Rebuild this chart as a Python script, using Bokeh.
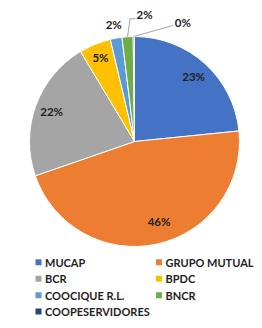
import math
from bokeh.plotting import figure
from bokeh.models import Range1d
from bokeh.core.properties import value
from bokeh.embed import file_html
from bokeh.resources import INLINE

# ---- data ----
categories = ["MUCAP", "GRUPO MUTUAL", "BCR", "BPDC", "COOCIQUE R.L.", "BNCR", "COOPESERVIDORES"]
shares = [23.4, 46.3, 21.7, 4.9, 1.8, 1.7, 0.2]
colors = ["#4472C4", "#ED7D31", "#A5A5A5", "#FFC000", "#5B9BD5", "#70AD47", "#264478"]

W, H = 262, 328
CX, CY, R = 134, H - 141, 105
FONT = value("Lato")
TXT = "#1e1e1e"
FS = "11.5px"

p = figure(width=W, height=H, x_range=Range1d(0, W), y_range=Range1d(0, H),
           output_backend="svg", toolbar_location=None, min_border=0)
p.axis.visible = False
p.grid.visible = False
p.outline_line_color = None
p.background_fill_color = "white"
p.border_fill_color = "white"

total = sum(shares)
cum = 0.0
starts, ends, mids = [], [], []
for v in shares:
    a0 = math.radians(90 - 360 * (cum + v) / total)
    a1 = math.radians(90 - 360 * cum / total)
    starts.append(a0)
    ends.append(a1)
    mids.append((a0 + a1) / 2)
    cum += v

p.wedge(x=[CX] * len(shares), y=[CY] * len(shares), radius=R,
        start_angle=starts, end_angle=ends, direction="anticlock",
        fill_color=colors, line_color="white", line_width=1)

labels = [f"{round(v)}%" for v in shares]
# inside labels
in_r = [0.84, 0.80, 0.84, 0.86]
in_da = [0.0, 0.08, 0.0, 0.0]
in_x, in_y, in_t = [], [], []
for i in range(4):
    r = in_r[i] * R
    a = mids[i] + in_da[i]
    in_x.append(CX + r * math.cos(a))
    in_y.append(CY + r * math.sin(a))
    in_t.append(labels[i])
p.text(x=in_x, y=in_y, text=in_t, text_font=FONT, text_font_style="bold",
       text_font_size=FS, text_color=TXT, text_align="center", text_baseline="middle")

# outside labels (COOCIQUE, BNCR, COOPESERVIDORES)
out_off = {4: (-13, 12), 5: (17, 22), 6: (49, 14)}
for i, (dx, dy) in out_off.items():
    ex = CX + R * math.cos(mids[i])
    ey = CY + R * math.sin(mids[i])
    if i == 4:
        lx = CX + 119 * math.cos(mids[i])
        ly = CY + 119 * math.sin(mids[i])
    else:
        lx, ly = ex + dx, ey + dy
    p.text(x=[lx], y=[ly], text=[labels[i]], text_font=FONT, text_font_style="bold",
           text_font_size=FS, text_color=TXT, text_align="center", text_baseline="middle")
    if i == 5:
        p.line(x=[ex, ex + 2.5, ex + 8], y=[ey, ly - 4, ly - 4], line_color="#A6A6A6", line_width=1)
    if i == 6:
        p.line(x=[ex, lx - 10], y=[ey, ly - 3], line_color="#A6A6A6", line_width=1)

# legend
col_x = [38, 158.5]
row_y = [261.7, 278.3, 294.8, 311]
lx, ly, lt, lc = [], [], [], []
for i, name in enumerate(categories):
    c = i % 2
    r = i // 2
    lx.append(col_x[c])
    ly.append(H - row_y[r])
    lt.append(name)
    lc.append(colors[i])
p.rect(x=lx, y=ly, width=6, height=6, fill_color=lc, line_color=None)
p.text(x=[x + 6.5 for x in lx], y=ly, text=lt, text_font=FONT, text_font_style="bold",
       text_font_size="11px", text_color=TXT, text_align="left", text_baseline="middle")

open("out.html", "w").write(file_html(p, INLINE))
